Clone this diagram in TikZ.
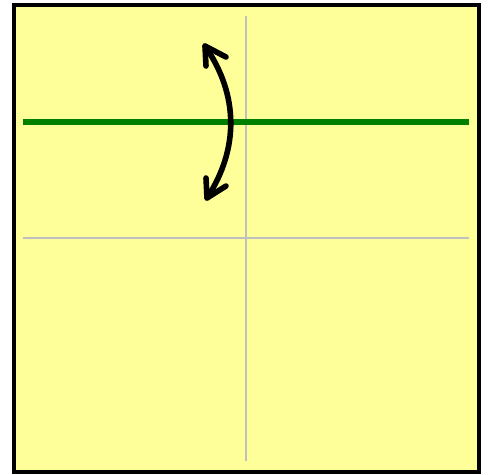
\documentclass[tikz,border=0pt]{standalone}
\definecolor{paper}{HTML}{FFFF99}
\definecolor{foldgreen}{HTML}{008000}
\definecolor{guidegray}{HTML}{C0C0C0}
\tikzset{
  guide/.style={draw=guidegray, line width=2.5pt},
  foldline/.style={draw=foldgreen, line width=5.6pt},
  flip/.style={draw=black, line width=5.6pt, line cap=round, line join=round}
}
\begin{document}
\begin{tikzpicture}[x=1pt,y=-1pt]
\useasboundingbox (0,0) rectangle (490,474);
\draw[fill=paper, line width=4.4pt] (14,5) rectangle (479,472);
\path[guide] (23,238) -- (469,238);
\path[guide] (246,16) -- (246,461);
\path[foldline] (23,122) -- (469,122);
\coordinate (top) at (205,46);
\coordinate (bot) at (207,198);
\coordinate (topR) at (226,57);
\coordinate (topL) at (206,66);
\coordinate (botL) at (206,178);
\coordinate (botR) at (226,186);
\path[flip] (top) .. controls (239,95) and (239,149) .. (bot);
\path[flip] (topR) -- (top) -- (topL);
\path[flip] (botL) -- (bot) -- (botR);
\end{tikzpicture}
\end{document}
